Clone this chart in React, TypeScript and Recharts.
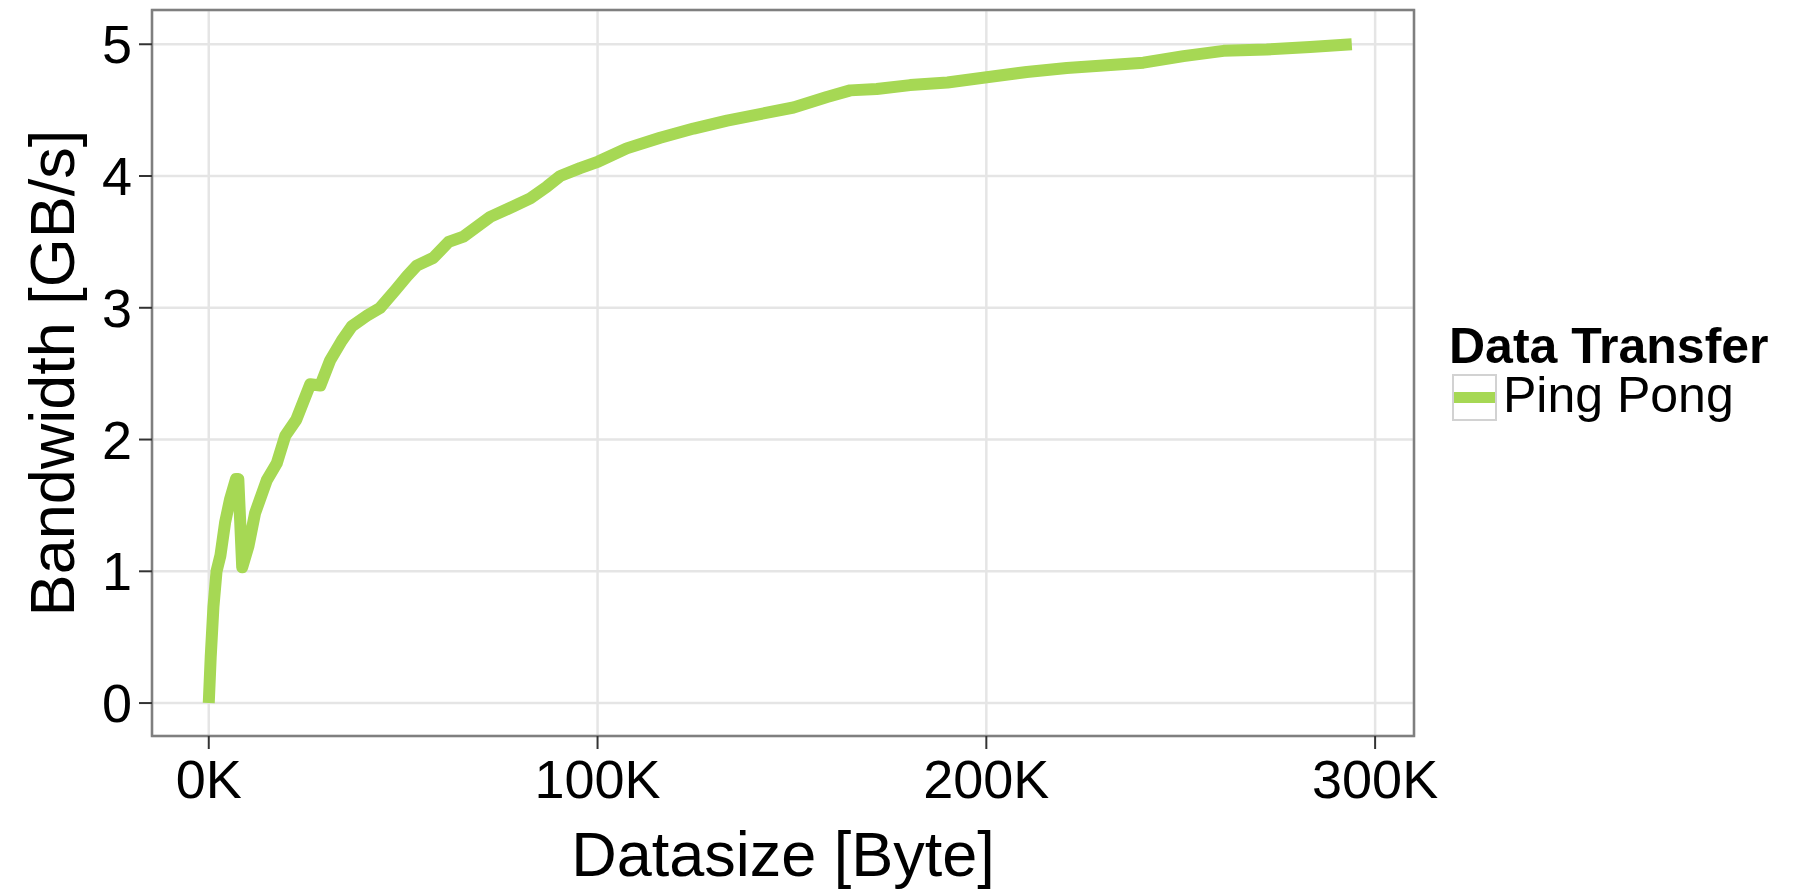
import React from "react";
import {
  LineChart,
  Line,
  XAxis,
  YAxis,
  CartesianGrid,
  ReferenceArea,
  Legend,
  Label,
} from "recharts";

const FONT = '"Liberation Sans", Arial, Helvetica, sans-serif';
const LINE_COLOR = "#a6d854";

// datasize in bytes, bandwidth in GB/s
const datasizeBytes = [
  0, 500, 1200, 2000, 3000, 4200, 5500, 7000, 7600, 8600, 10200, 11900, 14900,
  17500, 19700, 22500, 26100, 28700, 31200, 34200, 36800, 40700, 44100, 47900,
  51000, 53500, 57800, 61700, 65500, 72400, 78400, 82700, 87000, 90400, 95500,
  100200, 107500, 116100, 124700, 133300, 141800, 150400, 159000, 165000,
  171800, 180400, 190000, 200100, 210400, 220700, 231000, 240400, 250700,
  261000, 272100, 283300, 294000,
];
const bandwidthGBs = [
  0, 0.35, 0.73, 1.0, 1.12, 1.37, 1.55, 1.7, 1.7, 1.03, 1.19, 1.44, 1.69,
  1.82, 2.03, 2.15, 2.42, 2.41, 2.6, 2.75, 2.86, 2.94, 3.0, 3.13,
  3.24, 3.32, 3.38, 3.5, 3.54, 3.69, 3.77, 3.83, 3.92, 4.0, 4.06,
  4.11, 4.21, 4.29, 4.36, 4.42, 4.47, 4.52, 4.6, 4.65,
  4.66, 4.69, 4.71, 4.75, 4.79, 4.82, 4.84, 4.86, 4.91,
  4.95, 4.96, 4.98, 5.0,
];

const xTicks = [0, 100000, 200000, 300000];
const yTicks = [0, 1, 2, 3, 4, 5];
const xMinor = [50000, 150000, 250000];
const yMinor = [0.5, 1.5, 2.5, 3.5, 4.5];
const X_DOMAIN: [number, number] = [-14600, 310000];
const Y_DOMAIN: [number, number] = [-0.25, 5.26];

const data = datasizeBytes.map((size, i) => ({
  size,
  bandwidth: bandwidthGBs[i],
}));

const tickStyle = { fontSize: 54, fill: "#000", fontFamily: FONT };

function renderLegend(props: any) {
  const item = props.payload?.[0];
  return (
    <div style={{ fontFamily: FONT, color: "#000", width: 340 }}>
      <div style={{ fontWeight: 700, fontSize: 50, lineHeight: "50px" }}>
        Data Transfer
      </div>
      <div style={{ display: "flex", alignItems: "center", marginTop: 3 }}>
        <div
          style={{
            marginLeft: 3,
            width: 45,
            height: 47,
            boxSizing: "border-box",
            border: "2px solid #d2d2d2",
            display: "flex",
            alignItems: "center",
            background: "#fff",
          }}
        >
          <div style={{ width: "100%", height: 11, background: item?.color ?? LINE_COLOR }} />
        </div>
        <span style={{ fontSize: 50, lineHeight: "47px", marginLeft: 6, position: "relative", top: -2 }}>
          {item?.value ?? "Ping Pong"}
        </span>
      </div>
    </div>
  );
}

function YTitle(props: any) {
  const vb = props.viewBox ?? {};
  const cx = (vb.x ?? 0) + 52;
  const cy = vb.height ? vb.y + vb.height / 2 : 373;
  return (
    <text
      x={cx}
      y={cy}
      transform={`rotate(-90 ${cx} ${cy})`}
      textAnchor="middle"
      dominantBaseline="central"
      fontSize={63}
      fontFamily={FONT}
      fill="#000"
    >
      Bandwidth [GB/s]
    </text>
  );
}

function XTitle(props: any) {
  const vb = props.viewBox ?? {};
  const cx = vb.width ? vb.x + vb.width / 2 : 783;
  return (
    <text x={cx} y={876} textAnchor="middle" fontSize={63} fontFamily={FONT} fill="#000">
      Datasize [Byte]
    </text>
  );
}

export default function App() {
  return (
    <div
      style={{
        position: "absolute",
        left: 0,
        top: 0,
        width: 1797,
        height: 894,
        background: "#fff",
        fontFamily: FONT,
      }}
    >
      <LineChart
        width={1797}
        height={894}
        data={data}
        margin={{ top: 10, right: 383, left: 0, bottom: 0 }}
      >
        {/* minor grid */}
        <CartesianGrid
          stroke="#f0f0f0"
          strokeWidth={1.5}
          horizontalCoordinatesGenerator={({ yAxis }: any) =>
            typeof yAxis?.scale === "function" ? yMinor.map((v) => yAxis.scale(v)) : []
          }
          verticalCoordinatesGenerator={({ xAxis }: any) =>
            typeof xAxis?.scale === "function" ? xMinor.map((v) => xAxis.scale(v)) : []
          }
        />
        {/* major grid */}
        <CartesianGrid stroke="#e5e5e5" strokeWidth={2.5} />
        <XAxis
          type="number"
          dataKey="size"
          domain={X_DOMAIN}
          allowDataOverflow
          ticks={xTicks}
          tickFormatter={(v: number) => `${Math.round(v / 1000)}K`}
          height={158}
          tickSize={13}
          tickMargin={11}
          tick={tickStyle}
          tickLine={{ stroke: "#333", strokeWidth: 2 }}
          axisLine={false}
          interval={0}
        >
          <Label content={<XTitle />} />
        </XAxis>
        <YAxis
          type="number"
          domain={Y_DOMAIN}
          allowDataOverflow
          ticks={yTicks}
          width={152}
          tickSize={13}
          tickMargin={7}
          tick={tickStyle}
          tickLine={{ stroke: "#333", strokeWidth: 2 }}
          axisLine={false}
          interval={0}
        >
          <Label content={<YTitle />} />
        </YAxis>
        <Line
          type="linear"
          dataKey="bandwidth"
          name="Ping Pong"
          stroke={LINE_COLOR}
          strokeWidth={12}
          strokeLinejoin="round"
          dot={false}
          activeDot={false}
          isAnimationActive={false}
        />
        <ReferenceArea
          x1={X_DOMAIN[0]}
          x2={X_DOMAIN[1]}
          y1={Y_DOMAIN[0]}
          y2={Y_DOMAIN[1]}
          fill="none"
          fillOpacity={0}
          stroke="#7f7f7f"
          strokeWidth={2.5}
          ifOverflow="visible"
        />
        <Legend
          layout="vertical"
          align="center"
          verticalAlign="middle"
          content={renderLegend}
          wrapperStyle={{ left: 1449, top: 321, width: 340 }}
        />
      </LineChart>
    </div>
  );
}
